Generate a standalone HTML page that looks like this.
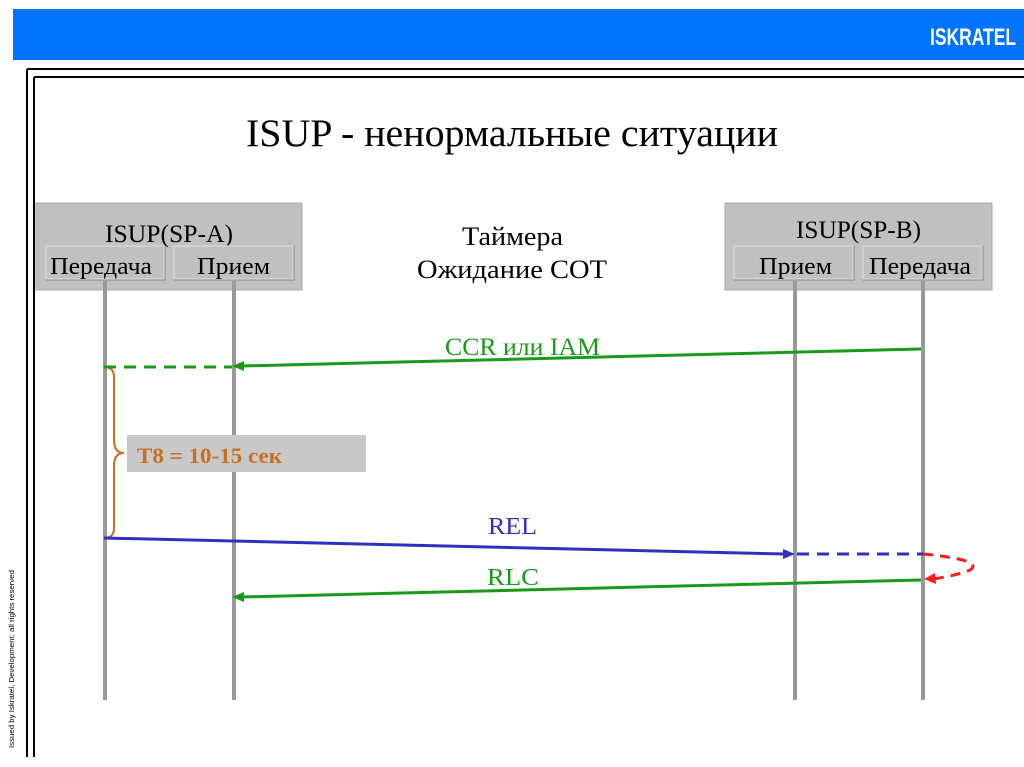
<!DOCTYPE html>
<html><head><meta charset="utf-8"><style>
html,body{margin:0;padding:0;background:#fff;}
svg{display:block}
</style></head><body>
<svg width="1024" height="767" xmlns="http://www.w3.org/2000/svg">
<rect x="13" y="9" width="1011" height="51" fill="#0074ff"/>
<text x="1016" y="45" font-family="Liberation Sans Narrow, Liberation Sans, sans-serif" font-weight="bold" font-size="24" fill="#fff" text-anchor="end" textLength="86" lengthAdjust="spacingAndGlyphs">ISKRATEL</text>
<line x1="27" y1="69" x2="1024" y2="69" stroke="#000" stroke-width="2"/>
<line x1="34" y1="77" x2="1024" y2="77" stroke="#000" stroke-width="2"/>
<line x1="27" y1="69" x2="27" y2="757" stroke="#000" stroke-width="2"/>
<line x1="34" y1="77" x2="34" y2="757" stroke="#000" stroke-width="2"/>
<text transform="translate(14,748) rotate(-90)" font-family="Liberation Sans, sans-serif" font-size="7.5" fill="#000" textLength="178" lengthAdjust="spacingAndGlyphs">Issued by Iskratel, Development; all rights reserved</text>
<text x="246" y="146" font-family="Liberation Serif, serif" font-size="39" textLength="532" lengthAdjust="spacingAndGlyphs">ISUP - ненормальные ситуации</text>
<!-- SP-A box -->
<rect x="36" y="203" width="266" height="87" fill="#c0c0c0" stroke="#a8a8a8"/>
<text x="105" y="242" font-family="Liberation Serif, serif" font-size="25" textLength="128" lengthAdjust="spacingAndGlyphs">ISUP(SP-A)</text>
<rect x="46" y="246" width="119" height="34" fill="#c0c0c0" stroke="#888" stroke-width="1"/>
<rect x="46" y="246" width="118" height="33" fill="#c0c0c0" stroke="#e0e0e0" stroke-width="1"/>
<rect x="174" y="246" width="120" height="34" fill="#c0c0c0" stroke="#888" stroke-width="1"/>
<rect x="174" y="246" width="119" height="33" fill="#c0c0c0" stroke="#e0e0e0" stroke-width="1"/>
<text x="50" y="274" font-family="Liberation Serif, serif" font-size="24" textLength="102" lengthAdjust="spacingAndGlyphs">Передача</text>
<text x="197" y="274" font-family="Liberation Serif, serif" font-size="24" textLength="73" lengthAdjust="spacingAndGlyphs">Прием</text>
<!-- SP-B box -->
<rect x="725" y="203" width="267" height="87" fill="#c0c0c0" stroke="#a8a8a8"/>
<text x="796" y="238" font-family="Liberation Serif, serif" font-size="25" textLength="125" lengthAdjust="spacingAndGlyphs">ISUP(SP-B)</text>
<rect x="734" y="246" width="120" height="34" fill="#c0c0c0" stroke="#888"/>
<rect x="734" y="246" width="119" height="33" fill="#c0c0c0" stroke="#e0e0e0"/>
<rect x="863" y="246" width="120" height="34" fill="#c0c0c0" stroke="#888"/>
<rect x="863" y="246" width="119" height="33" fill="#c0c0c0" stroke="#e0e0e0"/>
<text x="759" y="274" font-family="Liberation Serif, serif" font-size="24" textLength="73" lengthAdjust="spacingAndGlyphs">Прием</text>
<text x="869" y="274" font-family="Liberation Serif, serif" font-size="24" textLength="102" lengthAdjust="spacingAndGlyphs">Передача</text>
<text x="462" y="245" font-family="Liberation Serif, serif" font-size="26" textLength="101" lengthAdjust="spacingAndGlyphs">Таймера</text>
<text x="417" y="278" font-family="Liberation Serif, serif" font-size="26" textLength="190" lengthAdjust="spacingAndGlyphs">Ожидание COT</text>
<!-- lifelines -->
<g stroke="#999" stroke-width="4">
<line x1="105" y1="281" x2="105" y2="700"/>
<line x1="234" y1="281" x2="234" y2="700"/>
<line x1="795" y1="281" x2="795" y2="700"/>
<line x1="923" y1="281" x2="923" y2="700"/>
</g>
<!-- T8 box -->
<rect x="127" y="435" width="239" height="37" fill="#c8c8c8"/>
<text x="137" y="463" font-family="Liberation Serif, serif" font-weight="bold" font-size="22" fill="#c8701e" textLength="145" lengthAdjust="spacingAndGlyphs">T8 = 10-15 сек</text>
<path d="M104 367 Q114 367 114 377 L114 440 Q114 453 124 453 Q114 453 114 466 L114 528 Q114 538 104 538" fill="none" stroke="#c8701e" stroke-width="2"/>
<!-- CCR -->
<text x="445" y="355" font-family="Liberation Serif, serif" font-size="25" fill="#1a9a1a" textLength="155" lengthAdjust="spacingAndGlyphs">CCR или IAM</text>
<line x1="921" y1="349" x2="242" y2="366" stroke="#1a9a1a" stroke-width="3"/>
<polygon points="232,366 244,361 244,371" fill="#1a9a1a"/>
<line x1="104" y1="367" x2="232" y2="367" stroke="#1a9a1a" stroke-width="3" stroke-dasharray="12,8"/>
<!-- REL -->
<text x="488" y="534" font-family="Liberation Serif, serif" font-size="24" fill="#3030c0" textLength="49" lengthAdjust="spacingAndGlyphs">REL</text>
<line x1="104" y1="538" x2="785" y2="554" stroke="#3030c0" stroke-width="3"/>
<polygon points="795,554 783,549 783,559" fill="#3030c0"/>
<line x1="797" y1="554" x2="923" y2="554" stroke="#3030c0" stroke-width="3" stroke-dasharray="12,8"/>
<path d="M923 554 Q985 560 970 570 Q955 576 932 579" fill="none" stroke="#ff1a1a" stroke-width="3" stroke-dasharray="10,7"/>
<polygon points="924,579 935,573 936,584" fill="#ff1a1a"/>
<!-- RLC -->
<text x="487" y="585" font-family="Liberation Serif, serif" font-size="24" fill="#1a9a1a" textLength="52" lengthAdjust="spacingAndGlyphs">RLC</text>
<line x1="921" y1="580" x2="242" y2="597" stroke="#1a9a1a" stroke-width="3"/>
<polygon points="232,597 244,592 244,602" fill="#1a9a1a"/>
</svg>
</body></html>
